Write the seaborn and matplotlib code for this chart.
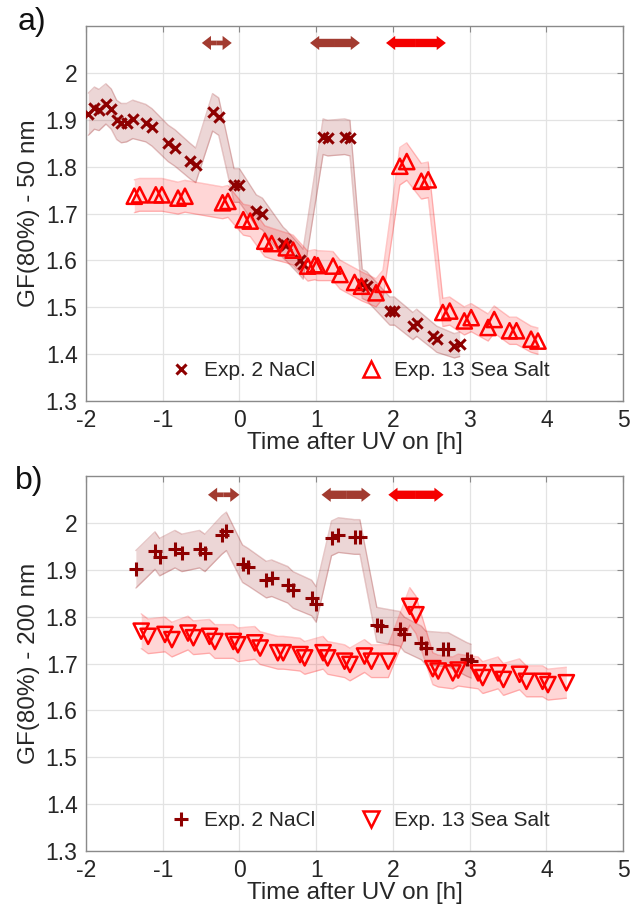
import numpy as np
import seaborn as sns
import matplotlib.pyplot as plt
from matplotlib.lines import Line2D
from matplotlib.ticker import FormatStrFormatter

# --- panel a : 50 nm ---
nacl_a_t = [-1.97, -1.89, -1.83, -1.74, -1.67, -1.60, -1.54, -1.47, -1.39, -1.22,
            -1.14, -0.93, -0.84, -0.65, -0.57, -0.35, -0.27, -0.07, 0.00, 0.22,
            0.30, 0.57, 0.61, 0.79, 0.83, 1.09, 1.15, 1.37, 1.44, 1.60,
            1.66, 1.96, 2.02, 2.26, 2.31, 2.52, 2.57, 2.80, 2.87]
nacl_a_gf = [1.912, 1.925, 1.921, 1.934, 1.923, 1.900, 1.893, 1.894, 1.901, 1.893,
             1.884, 1.850, 1.840, 1.813, 1.803, 1.916, 1.907, 1.760, 1.760, 1.706,
             1.699, 1.638, 1.632, 1.600, 1.592, 1.864, 1.861, 1.864, 1.861, 1.550,
             1.545, 1.492, 1.492, 1.460, 1.467, 1.439, 1.432, 1.418, 1.421]
nacl_a_err = [0.045, 0.045, 0.044, 0.043, 0.043, 0.042, 0.042, 0.041, 0.041, 0.040,
              0.040, 0.039, 0.039, 0.038, 0.037, 0.040, 0.040, 0.036, 0.036, 0.034,
              0.034, 0.033, 0.033, 0.032, 0.032, 0.038, 0.038, 0.038, 0.038, 0.031,
              0.031, 0.030, 0.030, 0.029, 0.029, 0.028, 0.028, 0.026, 0.026]

salt_a_t = [-1.37, -1.30, -1.09, -1.01, -0.80, -0.71, -0.22, -0.15, 0.05, 0.14,
            0.33, 0.42, 0.61, 0.70, 0.89, 0.98, 1.02, 1.22, 1.31, 1.50,
            1.59, 1.78, 1.87, 2.09, 2.18, 2.37, 2.46, 2.65, 2.74, 2.93,
            3.02, 3.24, 3.32, 3.52, 3.61, 3.80, 3.89]
salt_a_gf = [1.737, 1.740, 1.740, 1.740, 1.733, 1.737, 1.723, 1.726, 1.687, 1.684,
             1.641, 1.636, 1.627, 1.622, 1.588, 1.591, 1.589, 1.588, 1.570, 1.553,
             1.545, 1.531, 1.549, 1.801, 1.811, 1.769, 1.772, 1.489, 1.492, 1.471,
             1.478, 1.457, 1.474, 1.450, 1.450, 1.432, 1.428]
salt_a_err = [0.035, 0.035, 0.035, 0.035, 0.034, 0.034, 0.034, 0.034, 0.033, 0.033,
              0.033, 0.033, 0.032, 0.032, 0.032, 0.032, 0.032, 0.031, 0.031, 0.031,
              0.031, 0.030, 0.030, 0.040, 0.040, 0.038, 0.038, 0.030, 0.030, 0.030,
              0.030, 0.029, 0.029, 0.029, 0.029, 0.028, 0.028]

# --- panel b : 200 nm ---
nacl_b_t = [-1.35, -1.10, -1.04, -0.84, -0.75, -0.52, -0.45, -0.23, -0.17, 0.04,
            0.11, 0.35, 0.42, 0.63, 0.70, 0.94, 1.00, 1.20, 1.29, 1.50,
            1.57, 1.79, 1.85, 2.09, 2.15, 2.37, 2.43, 2.65, 2.72, 2.96, 3.02]
nacl_b_gf = [1.901, 1.941, 1.927, 1.944, 1.936, 1.944, 1.936, 1.974, 1.982, 1.913,
             1.906, 1.879, 1.882, 1.868, 1.857, 1.840, 1.826, 1.967, 1.974, 1.970,
             1.970, 1.783, 1.781, 1.774, 1.762, 1.744, 1.733, 1.730, 1.730, 1.709, 1.705]
nacl_b_err = [0.040, 0.040, 0.040, 0.040, 0.040, 0.040, 0.040, 0.041, 0.041, 0.040,
              0.040, 0.039, 0.039, 0.039, 0.039, 0.038, 0.038, 0.037, 0.037, 0.037,
              0.037, 0.037, 0.037, 0.037, 0.037, 0.036, 0.036, 0.036, 0.036, 0.036, 0.036]

salt_b_t = [-1.28, -1.19, -0.97, -0.88, -0.67, -0.60, -0.39, -0.32, -0.08, -0.02,
            0.20, 0.27, 0.50, 0.57, 0.79, 0.85, 1.09, 1.15, 1.37, 1.44,
            1.63, 1.72, 1.94, 2.22, 2.30, 2.52, 2.59, 2.78, 2.85, 3.11,
            3.17, 3.37, 3.44, 3.65, 3.74, 3.95, 4.02, 4.26]
salt_b_gf = [1.769, 1.758, 1.762, 1.751, 1.765, 1.755, 1.758, 1.747, 1.747, 1.740,
             1.744, 1.733, 1.723, 1.723, 1.719, 1.712, 1.723, 1.712, 1.705, 1.698,
             1.716, 1.705, 1.705, 1.822, 1.804, 1.689, 1.684, 1.680, 1.686, 1.680,
             1.670, 1.680, 1.666, 1.677, 1.662, 1.662, 1.655, 1.659]
salt_b_err = [0.037, 0.037, 0.037, 0.037, 0.036, 0.036, 0.036, 0.036, 0.036, 0.036,
              0.035, 0.035, 0.035, 0.035, 0.035, 0.035, 0.035, 0.035, 0.035, 0.035,
              0.035, 0.035, 0.035, 0.040, 0.040, 0.034, 0.034, 0.034, 0.034, 0.034,
              0.034, 0.034, 0.034, 0.033, 0.033, 0.033, 0.033, 0.033]

# UV periods shown as double arrows (start, end) in hours
uv_a = [(-0.49, -0.10), (0.92, 1.57), (1.91, 2.69)]
uv_b = [(-0.41, 0.00), (1.07, 1.71), (1.94, 2.66)]

DARK = '#8e0000'
RED = '#ff0000'
BROWN = '#a23b30'
ARROW_COLS = [BROWN, BROWN, '#f40000']
ARROW_TW = [0.28, 0.5, 0.5]

sns.set_style('whitegrid')
plt.rcParams['font.family'] = ['Liberation Sans', 'DejaVu Sans']
plt.rcParams['axes.unicode_minus'] = False

fig = plt.figure(figsize=(6.32, 9.22), dpi=100)
ax_a = fig.add_axes([0.136, 0.565, 0.850, 0.4067])
ax_b = fig.add_axes([0.136, 0.077, 0.850, 0.4067])


def band(ax, t, gf, err, col):
    t = np.array(t)
    gf = np.array(gf)
    err = np.array(err)
    ax.fill_between(t, gf - err, gf + err, color=col, alpha=0.16, lw=0, zorder=2)
    ax.plot(t, gf - err, color=col, alpha=0.22, lw=1, zorder=2)
    ax.plot(t, gf + err, color=col, alpha=0.22, lw=1, zorder=2)


def arrows(ax, spans, y):
    for (x0, x1), c, tw in zip(spans, ARROW_COLS, ARROW_TW):
        xm = (x0 + x1) / 2
        for xe in (x0, x1):
            ax.annotate('', xy=(xe, y), xytext=(xm, y),
                        arrowprops=dict(arrowstyle=f'simple,head_length=0.55,head_width=0.85,tail_width={tw}',
                                        color=c, mutation_scale=12, shrinkA=0, shrinkB=0, lw=0))


def style(ax, ylabel):
    ax.set_xlim(-2, 5)
    ax.set_ylim(1.3, 2.1)
    ax.set_xticks(range(-2, 6))
    ax.set_yticks([1.3, 1.4, 1.5, 1.6, 1.7, 1.8, 1.9, 2.0])
    ax.yaxis.set_major_formatter(FormatStrFormatter('%g'))
    ax.grid(True, color='#e3e3e3', lw=0.9)
    for s in ax.spines.values():
        s.set_color('#8a8a8a')
        s.set_linewidth(1.0)
    ax.tick_params(direction='in', length=4, color='#8a8a8a', labelsize=16.5,
                   top=True, right=True, labelcolor='#262626', pad=6)
    ax.set_xlabel('Time after UV on [h]', fontsize=17.5, color='#262626', labelpad=0)
    ax.set_ylabel(ylabel, fontsize=17.5, color='#262626', labelpad=4)


def legend(ax, handles):
    ax.legend(handles=handles, loc='lower center', ncol=2, frameon=False, fontsize=15,
              handlelength=1.0, handletextpad=0.6, columnspacing=2.2,
              bbox_to_anchor=(0.51, 0.005))


# panel a
band(ax_a, nacl_a_t, nacl_a_gf, nacl_a_err, DARK)
band(ax_a, salt_a_t, salt_a_gf, salt_a_err, RED)
sns.scatterplot(x=nacl_a_t, y=nacl_a_gf, marker='x', s=55, color=DARK, linewidth=2.2, ax=ax_a, zorder=4)
sns.scatterplot(x=salt_a_t, y=salt_a_gf, marker='^', s=120, facecolor='none', edgecolor=RED,
                linewidth=1.8, ax=ax_a, zorder=4)
arrows(ax_a, uv_a, 2.064)
style(ax_a, 'GF(80%) - 50 nm')
legend(ax_a, [Line2D([], [], ls='', marker='x', color=DARK, ms=7, mew=2.2, label='Exp. 2 NaCl'),
              Line2D([], [], ls='', marker='^', mfc='none', mec=RED, ms=11, mew=1.8,
                     label='Exp. 13 Sea Salt')])

# panel b
band(ax_b, nacl_b_t, nacl_b_gf, nacl_b_err, DARK)
band(ax_b, salt_b_t, salt_b_gf, salt_b_err, RED)
sns.scatterplot(x=nacl_b_t, y=nacl_b_gf, marker='+', s=110, color=DARK, linewidth=2.2, ax=ax_b, zorder=4)
sns.scatterplot(x=salt_b_t, y=salt_b_gf, marker='v', s=120, facecolor='none', edgecolor=RED,
                linewidth=1.8, ax=ax_b, zorder=4)
arrows(ax_b, uv_b, 2.06)
style(ax_b, 'GF(80%) - 200 nm')
legend(ax_b, [Line2D([], [], ls='', marker='+', color=DARK, ms=10, mew=2.2, label='Exp. 2 NaCl'),
              Line2D([], [], ls='', marker='v', mfc='none', mec=RED, ms=11, mew=1.8,
                     label='Exp. 13 Sea Salt')])

fig.text(0.028, 0.976, 'a)', fontsize=23, va='center', ha='left', color='#111111')
fig.text(0.024, 0.478, 'b)', fontsize=23, va='center', ha='left', color='#111111')

fig.savefig('out.png', dpi=100)
plt.close(fig)
